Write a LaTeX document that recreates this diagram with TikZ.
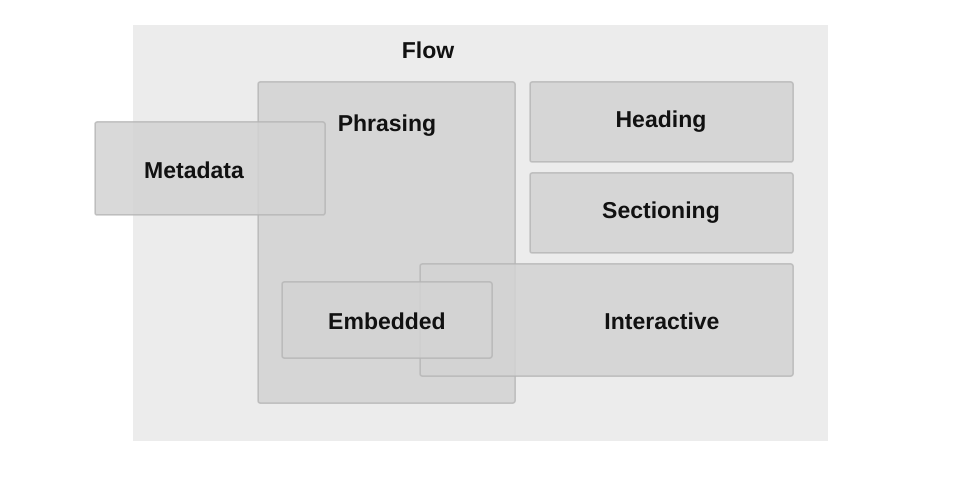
\documentclass[tikz,border=0pt]{standalone}
\usepackage{fontspec}
\setmainfont{Liberation Sans}
\definecolor{flowbg}{HTML}{ECECEC}
\definecolor{boxfill}{HTML}{D3D3D3}
\definecolor{boxline}{HTML}{B4B4B4}
\definecolor{txt}{HTML}{111111}
\begin{document}
\begin{tikzpicture}[x=1bp,y=-1bp,
  box/.style={draw=boxline, draw opacity=0.75, line width=1.5bp, fill=boxfill, fill opacity=0.85,
    rounded corners=2bp, anchor=north west, inner sep=0pt, outer sep=0pt},
  lbl/.style={text=txt, font=\fontsize{23bp}{28bp}\selectfont\bfseries, inner sep=0pt}]
\useasboundingbox (0,0) rectangle (960,480);
\fill[white] (0,0) rectangle (960,480);
\node[fill=flowbg, anchor=north west, inner sep=0pt, minimum width=695bp, minimum height=416bp] (flow) at (133,25) {};
\node[lbl] (flowlbl) at (428,50) {Flow};
\node[box, minimum width=257bp, minimum height=321bp] (phrasing) at (258,82) {};
\node[box, minimum width=230bp, minimum height=93bp] (metadata) at (95,122) {};
\node[box, minimum width=263bp, minimum height=80bp] (heading) at (530,82) {};
\node[box, minimum width=263bp, minimum height=80bp] (sectioning) at (530,173) {};
\node[box, minimum width=373bp, minimum height=112bp] (interactive) at (420,264) {};
\node[box, minimum width=210bp, minimum height=76bp] (embedded) at (282,282) {};
\node[lbl] (phrasinglbl) at (387,126) {Phrasing};
\node[lbl] (metadatalbl) at (194,170) {Metadata};
\node[lbl] (headinglbl) at (661,122) {Heading};
\node[lbl] (sectioninglbl) at (661,213) {Sectioning};
\node[lbl] (interactivelbl) at (662,321) {Interactive};
\node[lbl] (embeddedlbl) at (387,321) {Embedded};
\end{tikzpicture}
\end{document}
